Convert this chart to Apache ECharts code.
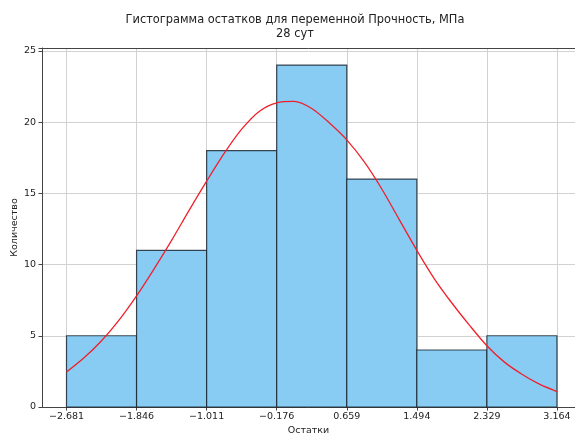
<!DOCTYPE html>
<html>
<head>
<meta charset="utf-8">
<script src="https://cdn.jsdelivr.net/npm/echarts@6/dist/echarts.min.js"></script>
<style>
html,body{margin:0;padding:0;background:#fff;overflow:hidden;}
#chart{width:575px;height:436px;}
</style>
</head>
<body>
<div id="chart"></div>
<script>
// Histogram bin edges and counts
const binEdges = [-2.681, -1.846, -1.011, -0.176, 0.659, 1.494, 2.329, 3.164];
const counts = [5, 11, 18, 24, 16, 4, 5];
// Fitted normal curve points
const curveX = [-2.681, -2.472, -2.2635, -2.055, -1.846, -1.637, -1.4285, -1.220, -1.011, -0.802,
                -0.5935, -0.385, -0.176, 0.0328, 0.2415, 0.450, 0.659, 0.868, 1.0765, 1.285,
                1.494, 1.703, 1.9115, 2.120, 2.329, 2.538, 2.7465, 2.955, 3.164];
const curveY = [2.45, 3.45, 4.65, 6.1, 7.8, 9.7, 11.7, 13.8, 15.85, 17.8,
                19.5, 20.75, 21.35, 21.45, 20.95, 19.95, 18.75, 17.2, 15.3, 13.15,
                11.0, 9.0, 7.3, 5.75, 4.3, 3.15, 2.3, 1.6, 1.08];
const yTicks = [0, 5, 10, 15, 20, 25];

const FONT = 'DejaVu Sans';
const histData = counts.map((c, i) => [binEdges[i], binEdges[i + 1], c]);
const curveData = curveX.map((x, i) => [x, curveY[i]]);
const fmt = v => (v < 0 ? '\u2212' + Math.abs(v).toFixed(3) : v.toFixed(3));

const chart = echarts.init(document.getElementById('chart'), null, {renderer: 'canvas'});
chart.setOption({
  animation: false,
  title: {
    text: 'Гистограмма остатков для переменной Прочность, МПа\n28 сут',
    left: 290, top: 8, textAlign: 'center',
    textStyle: {fontFamily: FONT, fontSize: 11.4, fontWeight: 'normal', color: '#222', lineHeight: 14}
  },
  grid: {left: 42, right: 0, top: 48, bottom: 29, outerBoundsMode: 'none', containLabel: false},
  xAxis: {
    type: 'value', min: -2.973, max: 3.379,
    name: 'Остатки', nameLocation: 'middle', nameGap: 19, nameMoveOverlap: false,
    nameTextStyle: {fontFamily: FONT, fontSize: 9.5, color: '#222'},
    axisLine: {onZero: false, lineStyle: {color: '#444', width: 1}},
    axisTick: {show: true, length: 3.5, customValues: binEdges, lineStyle: {color: '#444'}},
    axisLabel: {customValues: binEdges, formatter: fmt, fontFamily: FONT, fontSize: 9.5, color: '#222', margin: 5},
    splitLine: {show: true, lineStyle: {color: '#d2d2d2', width: 1}}
  },
  yAxis: {
    type: 'value', min: 0, max: 25.2, interval: 5,
    name: 'Количество', nameLocation: 'middle', nameGap: 22.5, nameMoveOverlap: false,
    nameTextStyle: {fontFamily: FONT, fontSize: 9.5, color: '#222'},
    axisLine: {show: true, onZero: false, lineStyle: {color: '#444', width: 1}},
    axisTick: {show: true, length: 3.5, lineStyle: {color: '#444'}},
    axisLabel: {
      fontFamily: FONT, fontSize: 9.5, color: '#222', margin: 6,
      formatter: v => (yTicks.indexOf(v) >= 0 ? String(v) : '')
    },
    splitLine: {show: true, lineStyle: {color: '#d2d2d2', width: 1}}
  },
  series: [{
    type: 'custom',
    data: histData,
    encode: {x: [0, 1], y: 2},
    renderItem: (params, api) => {
      const p0 = api.coord([api.value(0), 0]);
      const p1 = api.coord([api.value(1), api.value(2)]);
      return {
        type: 'rect',
        shape: {x: p0[0], y: p1[1], width: p1[0] - p0[0], height: p0[1] - p1[1]},
        style: {fill: '#88ccf4', stroke: 'rgba(20,30,40,0.8)', lineWidth: 1.2}
      };
    },
    z: 2
  }, {
    type: 'line',
    data: curveData,
    smooth: 0.3,
    showSymbol: false,
    lineStyle: {color: '#f0202a', width: 1.3},
    markLine: {
      silent: true, symbol: 'none', label: {show: false},
      lineStyle: {color: '#444', width: 1, type: 'solid'},
      data: [{yAxis: 25.2}]
    },
    z: 3
  }]
});
</script>
</body>
</html>
